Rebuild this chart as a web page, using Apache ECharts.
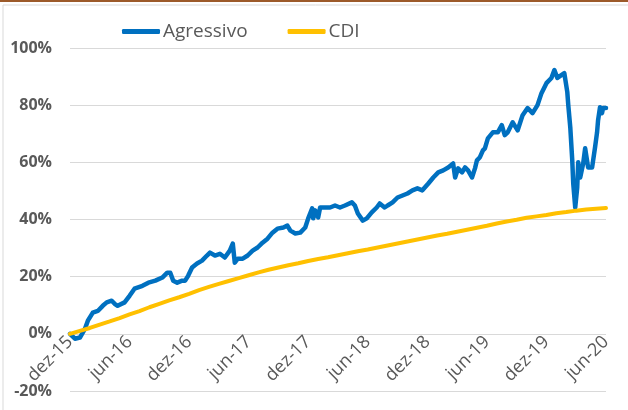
<!DOCTYPE html>
<html>
<head>
<meta charset="utf-8">
<script src="https://cdn.jsdelivr.net/npm/echarts@6/dist/echarts.min.js"></script>
<style>
html,body{margin:0;padding:0;background:#fff;}
#chart{width:628px;height:410px;}
</style>
</head>
<body>
<div id="chart"></div>
<script>
// x tick labels, one per 6 months starting dez-15 (month index 0)
const tickLabels = ['dez-15','jun-16','dez-16','jun-17','dez-17','jun-18','dez-18','jun-19','dez-19','jun-20'];
const seriesNames = ['Agressivo', 'CDI'];

// Agressivo: months since dez-15, cumulative return (%)
const aggMonths = [0,0.5,1.0,1.5,1.8,2.3,2.8,3.3,3.7,4.2,4.5,4.8,5.5,6.0,6.5,7.3,7.9,8.6,9.3,9.8,10.1,10.4,10.8,11.3,11.6,11.9,12.3,12.8,13.3,13.8,14.1,14.6,15.1,15.6,16.1,16.4,16.6,16.9,17.4,17.9,18.4,18.9,19.4,19.9,20.4,20.9,21.5,21.9,22.2,22.7,23.2,23.7,24.0,24.4,24.5,24.7,25.0,25.2,25.7,26.2,26.7,27.2,27.7,28.4,28.7,29.0,29.5,29.9,30.4,30.9,31.2,31.7,32.0,32.5,33.0,33.5,34.0,34.5,35.0,35.5,36.1,36.6,37.1,37.6,38.1,38.6,38.8,39.1,39.5,39.8,40.1,40.5,40.8,41.0,41.3,41.6,41.8,42.1,42.6,43.1,43.5,43.8,44.1,44.6,45.1,45.6,46.1,46.6,47.1,47.5,48.0,48.5,48.8,49.1,49.5,49.8,50.1,50.2,50.4,50.6,50.7,50.9,51.1,51.2,51.4,51.7,51.9,52.1,52.2,52.6,52.9,53.1,53.2,53.4,53.6,53.7,54.0];
const aggValues = [0.0,-1.7,-1.3,1.7,4.6,7.4,8.0,9.8,11.0,11.6,10.5,9.8,11.0,13.3,15.8,16.8,17.9,18.6,19.7,21.4,21.4,18.6,17.9,18.6,18.6,20.3,23.2,24.6,25.6,27.4,28.4,27.4,28.0,26.7,29.1,31.6,24.9,26.3,26.3,27.4,29.1,30.2,31.9,33.3,35.4,36.8,37.2,37.9,36.1,35.1,35.4,37.2,40.4,43.9,40.4,43.2,40.7,44.2,44.2,44.2,44.9,44.2,44.9,46.0,44.9,42.1,39.6,40.4,42.5,44.2,45.6,44.2,44.9,46.0,47.7,48.4,49.1,50.2,50.9,50.2,52.6,54.7,56.5,57.2,58.2,59.6,54.7,57.9,56.5,58.2,57.2,54.7,57.9,60.7,61.8,64.2,64.9,68.4,70.5,70.5,73.0,69.5,70.5,74.0,71.2,76.5,79.0,77.2,80.0,84.2,87.7,89.5,92.3,89.5,90.5,91.2,84.6,80.0,72.3,60.7,52.6,44.2,51.2,60.0,54.7,59.6,64.9,65.3,58.2,58.2,65.3,70.5,74.7,79.3,77.2,79.0,79.0];

// CDI: monthly cumulative return (%), dez-15 .. jun-20
const cdiValues = [0,1.05,2.05,3.25,4.35,5.5,6.8,7.95,9.3,10.5,11.7,12.8,14.0,15.3,16.4,17.5,18.5,19.5,20.5,21.5,22.4,23.2,24.0,24.7,25.5,26.2,26.8,27.5,28.2,28.9,29.5,30.2,30.9,31.6,32.3,33.0,33.7,34.4,35.0,35.7,36.4,37.1,37.8,38.6,39.3,39.9,40.6,41.1,41.6,42.2,42.6,43.1,43.5,43.8,44.0];

const yTicks = { min: -20, max: 100, step: 20 };

const chart = echarts.init(document.getElementById('chart'), null, { renderer: 'canvas' });
const txt = '#595959';
const fontFam = '"Open Sans", "Noto Sans", sans-serif';

chart.setOption({
  animation: false,
  backgroundColor: '#ffffff',
  graphic: [
    { type: 'rect', shape: { x: 0, y: 0, width: 628, height: 2 }, style: { fill: '#9C5A2A' } },
    { type: 'line', shape: { x1: 3, y1: 5, x2: 628, y2: 5 }, style: { stroke: '#d9d9d9', lineWidth: 1 } },
    { type: 'line', shape: { x1: 3, y1: 5, x2: 3, y2: 410 }, style: { stroke: '#d9d9d9', lineWidth: 1 } }
  ],
  legend: {
    left: 117,
    top: 17,
    itemWidth: 38,
    itemHeight: 5,
    itemGap: 40,
    icon: 'roundRect',
    textStyle: { color: txt, fontSize: 19, fontFamily: fontFam, padding: [0, 0, 0, -2] },
    data: seriesNames
  },
  grid: { left: 70, right: 22, top: 48, bottom: 19, containLabel: false, outerBoundsMode: 'none' },
  xAxis: {
    type: 'value',
    position: 'bottom',
    min: 0,
    max: (tickLabels.length - 1) * 6,
    interval: 6,
    axisLine: { show: false, onZero: false },
    axisTick: { show: false },
    splitLine: { show: false },
    axisLabel: {
      rotate: 45,
      color: txt,
      fontSize: 18,
      fontFamily: fontFam,
      margin: -52,
      formatter: v => tickLabels[Math.round(v / 6)] || ''
    }
  },
  yAxis: {
    type: 'value',
    position: 'left',
    min: yTicks.min,
    max: yTicks.max,
    interval: yTicks.step,
    axisLine: { show: false, onZero: false },
    axisTick: { show: false },
    splitLine: { show: true, lineStyle: { color: '#d9d9d9', width: 1 } },
    axisLabel: {
      color: txt,
      fontSize: 16,
      fontWeight: 'bold',
      fontFamily: fontFam,
      margin: 18,
      formatter: v => v + '%'
    }
  },
  series: [
    {
      name: seriesNames[0],
      type: 'line',
      data: aggMonths.map((m, i) => [m, aggValues[i]]),
      showSymbol: false,
      symbol: 'none',
      lineStyle: { color: '#0070C0', width: 4.5, join: 'round', cap: 'round' },
      itemStyle: { color: '#0070C0' }
    },
    {
      name: seriesNames[1],
      type: 'line',
      data: cdiValues.map((v, i) => [i, v]),
      showSymbol: false,
      symbol: 'none',
      smooth: false,
      lineStyle: { color: '#FFC000', width: 4, cap: 'round' },
      itemStyle: { color: '#FFC000' }
    }
  ]
});
</script>
</body>
</html>
